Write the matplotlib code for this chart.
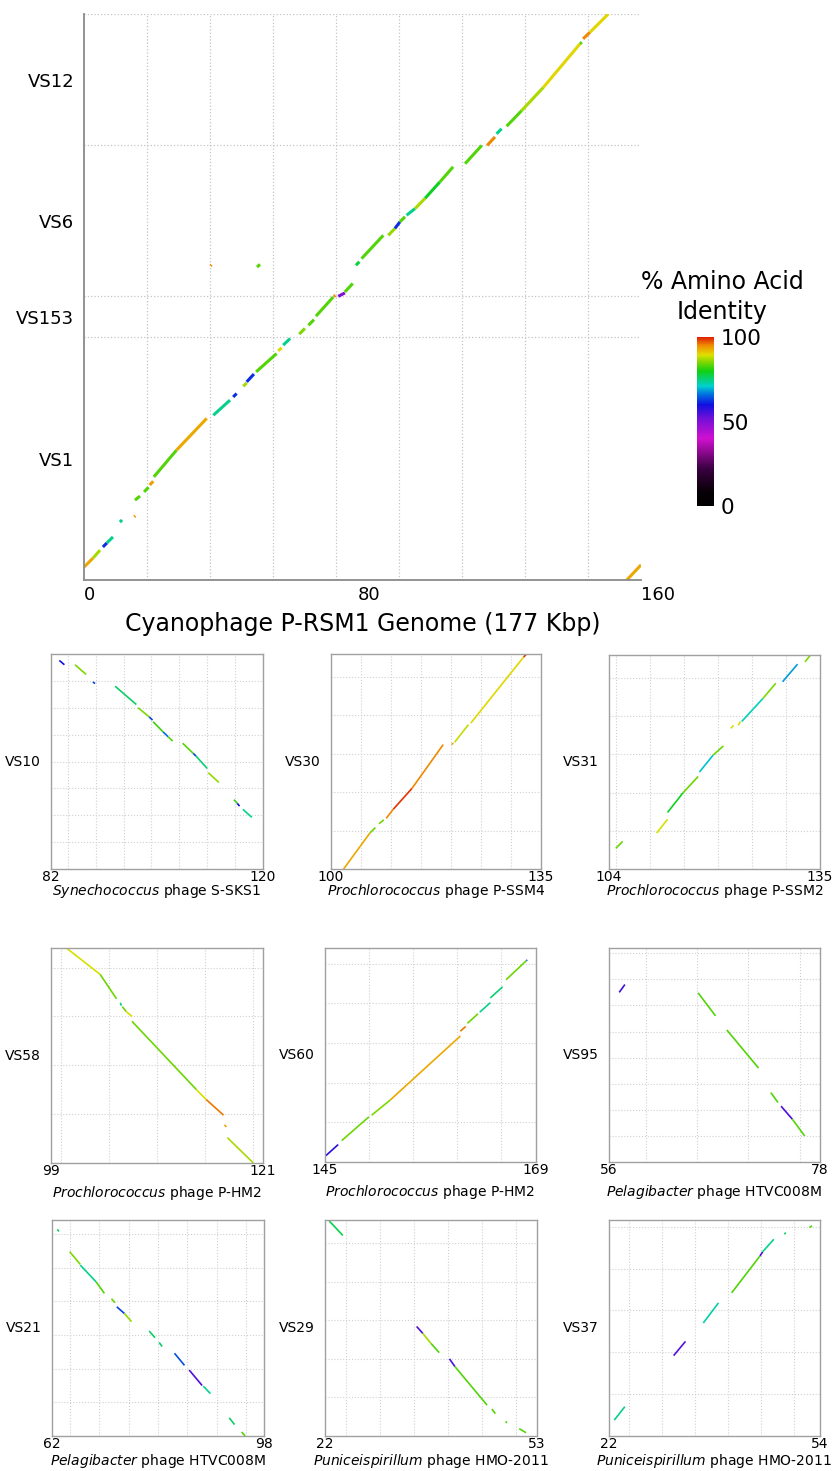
import numpy as np
import matplotlib
matplotlib.use('Agg')
import matplotlib.pyplot as plt
from matplotlib.collections import LineCollection
from matplotlib.colors import LinearSegmentedColormap, Normalize
from matplotlib.cm import ScalarMappable

W, H = 840, 1471

# ---- main dot plot: Cyanophage P-RSM1 vs VS contigs ----
genome_len = 177
contig_names = ['VS1', 'VS153', 'VS6', 'VS12']
contig_lens = [77.2, 13.0, 48.0, 41.8]
main_xtick_pos = [0, 87, 177]
main_xtick_labels = ['0', '80', '160']

# (x0, x1, y0, y1, % identity) in kbp
main_segs = [
    (0.0, 2.9, 4.1, 7.0, 93), (2.9, 5.1, 7.0, 9.5, 87),
    (6.0, 7.3, 10.5, 11.8, 62), (7.3, 9.2, 11.8, 13.7, 74),
    (11.4, 12.1, 18.4, 19.1, 74), (16.0, 16.3, 20.1, 20.4, 95),
    (16.2, 17.8, 25.4, 26.7, 83), (19.1, 20.5, 28.0, 29.5, 83),
    (20.9, 22.0, 30.2, 31.4, 94), (22.2, 29.4, 32.8, 41.3, 83),
    (29.4, 39.0, 41.3, 51.4, 93), (41.1, 46.4, 52.4, 57.2, 74),
    (47.4, 48.5, 58.2, 59.3, 62), (50.6, 51.7, 61.6, 62.7, 87),
    (51.7, 54.0, 63.0, 65.5, 62), (54.7, 61.2, 66.2, 72.0, 83),
    (61.7, 62.8, 72.9, 73.8, 90), (63.3, 65.5, 74.7, 76.8, 74),
    (68.4, 70.2, 78.2, 80.0, 85), (71.3, 73.1, 81.0, 82.8, 83),
    (73.7, 79.2, 83.9, 90.0, 83), (79.4, 79.9, 90.2, 90.5, 95),
    (80.8, 82.9, 90.2, 91.3, 50), (82.9, 85.4, 91.6, 94.3, 83),
    (86.4, 87.5, 100.1, 101.2, 78), (88.2, 95.1, 102.2, 109.6, 83),
    (96.7, 98.8, 109.6, 111.8, 86), (98.8, 100.4, 111.8, 113.9, 62),
    (100.4, 102.0, 113.9, 115.5, 83), (102.5, 105.2, 116.0, 118.1, 74),
    (105.2, 108.4, 118.1, 121.4, 87), (108.4, 113.1, 121.4, 126.6, 79),
    (113.1, 117.3, 126.6, 131.4, 83), (121.1, 126.4, 132.4, 138.2, 83),
    (128.1, 130.6, 138.2, 140.9, 95), (131.1, 132.7, 141.9, 143.5, 74),
    (134.3, 139.1, 144.3, 149.3, 83), (139.1, 146.0, 149.3, 156.7, 87),
    (146.0, 157.6, 156.7, 170.5, 90), (157.6, 158.2, 170.5, 171.0, 83),
    (158.6, 160.8, 172.1, 174.2, 95), (160.8, 166.6, 174.2, 180.0, 90),
    (40.2, 40.5, 99.9, 100.2, 95), (55.0, 55.9, 99.5, 100.4, 83),
    (172.5, 177.0, 0.0, 4.8, 93),
]

# ---- small panels ----
panel_names = ['VS10', 'VS30', 'VS31', 'VS58', 'VS60', 'VS95', 'VS21', 'VS29', 'VS37']
panel_genus = ['Synechococcus', 'Prochlorococcus', 'Prochlorococcus',
               'Prochlorococcus', 'Prochlorococcus', 'Pelagibacter',
               'Pelagibacter', 'Puniceispirillum', 'Puniceispirillum']
panel_phage = ['phage S-SKS1', 'phage P-SSM4', 'phage P-SSM2', 'phage P-HM2',
               'phage P-HM2', 'phage HTVC008M', 'phage HTVC008M',
               'phage HMO-2011', 'phage HMO-2011']
panel_xlims = [(82, 120), (100, 135), (104, 135), (99, 121), (145, 169),
               (56.4, 77.0), (62, 98), (22, 53), (22, 54)]
panel_xticklabels = [('82', '120'), ('100', '135'), ('104', '135'), ('99', '121'),
                     ('145', '169'), ('56', '78'), ('62', '98'), ('22', '53'),
                     ('22', '54')]
panel_ylens = [40, 28, 28, 22, 27, 41, 32.1, 28, 25.8]

vs10_segs = [
    (83.5, 84.4, 38.8, 38.0, 60), (86.3, 88.3, 38.0, 36.2, 85),
    (89.5, 89.9, 34.8, 34.5, 63), (93.5, 97.3, 34.0, 30.6, 76),
    (97.6, 99.6, 30.0, 28.3, 85), (99.6, 100.2, 28.3, 27.7, 63),
    (100.3, 102.1, 27.4, 25.5, 82), (102.1, 103.0, 25.5, 24.6, 66),
    (103.0, 103.8, 24.6, 23.8, 83), (105.6, 107.5, 23.4, 21.5, 83),
    (107.5, 108.0, 21.5, 21.0, 63), (108.0, 110.0, 21.0, 18.7, 75),
    (110.2, 112.1, 17.9, 16.1, 86), (114.8, 115.4, 12.9, 12.2, 82),
    (115.4, 115.8, 12.2, 11.7, 60), (116.4, 118.0, 11.1, 9.6, 74),
]
vs30_segs = [
    (102.1, 106.5, 0.0, 4.7, 93), (106.5, 107.4, 4.7, 5.4, 84),
    (108.0, 108.8, 5.9, 6.4, 84), (109.2, 110.4, 6.6, 7.8, 95),
    (110.4, 113.5, 7.8, 10.5, 99), (113.5, 118.7, 10.5, 16.2, 95),
    (120.1, 120.4, 16.2, 16.4, 93), (120.6, 122.9, 16.5, 18.8, 88),
    (123.3, 132.1, 19.0, 27.6, 90), (132.1, 132.6, 27.6, 28.0, 99),
]
vs31_segs = [
    (105.0, 106.0, 2.7, 3.6, 84), (111.0, 112.6, 4.7, 6.5, 89),
    (112.6, 114.9, 7.4, 10.0, 79), (114.9, 117.1, 10.0, 12.1, 84),
    (117.3, 119.3, 12.7, 14.9, 70), (119.3, 120.8, 14.9, 16.1, 84),
    (121.9, 122.3, 18.4, 18.8, 89), (123.0, 123.3, 18.8, 19.3, 89),
    (123.5, 126.6, 19.3, 22.3, 72), (126.6, 128.5, 22.3, 24.3, 85),
    (129.5, 131.7, 24.5, 26.8, 68), (132.8, 133.6, 27.1, 28.0, 85),
]
vs58_segs = [
    (100.6, 104.1, 22.0, 19.3, 89), (104.1, 105.8, 19.3, 16.8, 84),
    (106.2, 106.3, 16.4, 16.1, 74), (106.4, 106.8, 16.0, 15.5, 84),
    (106.8, 107.4, 15.5, 15.0, 89), (107.4, 114.1, 14.5, 7.5, 84),
    (114.1, 115.1, 7.5, 6.5, 89), (115.1, 116.9, 6.5, 4.9, 96),
    (117.0, 117.2, 3.9, 3.7, 94), (117.3, 120.0, 2.6, 0.0, 87),
]
vs60_segs = [
    (145.1, 146.5, 0.8, 2.2, 58), (146.9, 150.0, 2.7, 5.7, 84),
    (150.3, 152.4, 5.9, 7.8, 85), (152.4, 160.4, 7.8, 15.9, 93),
    (160.4, 161.0, 16.5, 17.1, 96), (161.2, 162.4, 17.5, 18.7, 84),
    (162.6, 163.8, 18.9, 20.1, 74), (163.8, 165.2, 20.7, 22.1, 75),
    (165.6, 167.9, 23.0, 25.4, 84), (167.9, 168.0, 25.4, 25.5, 65),
]
vs95_segs = [
    (57.4, 57.95, 32.5, 34.0, 56), (65.1, 66.8, 32.4, 28.0, 83),
    (67.9, 71.0, 25.3, 18.0, 83), (72.2, 72.9, 13.3, 11.4, 83),
    (73.2, 74.3, 10.7, 8.2, 55), (74.3, 75.5, 8.2, 5.0, 83),
]
vs21_segs = [
    (62.9, 63.2, 30.7, 30.4, 76), (65.0, 66.8, 27.4, 25.5, 85),
    (66.8, 69.5, 25.4, 22.9, 74), (69.5, 70.9, 22.9, 21.2, 83),
    (72.1, 72.7, 20.4, 19.8, 84), (73.0, 74.3, 19.2, 18.2, 63),
    (74.3, 75.5, 18.2, 17.0, 86), (78.5, 79.5, 15.6, 14.6, 76),
    (80.2, 80.7, 13.9, 13.3, 76), (82.8, 84.5, 12.3, 10.5, 64),
    (85.3, 87.5, 9.8, 7.5, 55), (87.7, 88.9, 7.4, 6.3, 74),
    (92.1, 93.0, 2.7, 1.7, 76), (94.2, 94.8, 0.6, 0.0, 83),
]
vs29_segs = [
    (22.6, 24.6, 27.9, 26.0, 77), (35.4, 36.3, 14.2, 13.3, 55),
    (36.3, 37.5, 13.3, 12.0, 87), (37.5, 38.7, 12.0, 10.8, 83),
    (40.2, 41.0, 10.0, 9.0, 55), (41.0, 45.7, 9.0, 4.0, 83),
    (46.4, 46.9, 3.5, 2.9, 83), (48.4, 48.6, 1.9, 1.7, 83),
    (50.4, 51.4, 0.95, 0.43, 83),
]
vs37_segs = [
    (22.8, 24.4, 1.9, 3.5, 74), (31.8, 33.6, 9.6, 11.3, 54),
    (36.3, 38.6, 13.5, 15.9, 73), (40.6, 44.9, 17.1, 21.5, 83),
    (44.9, 45.3, 21.5, 22.0, 55), (45.3, 47.0, 22.0, 23.5, 74),
    (48.6, 48.8, 24.1, 24.3, 76), (52.4, 52.8, 24.9, 25.1, 83),
]
panel_segs = [vs10_segs, vs30_segs, vs31_segs, vs58_segs, vs60_segs,
              vs95_segs, vs21_segs, vs29_segs, vs37_segs]

# colour scale for % amino acid identity
cmap = LinearSegmentedColormap.from_list('aai', [
    (0.0, '#000000'), (0.08, '#060006'), (0.22, '#3a0040'), (0.40, '#d010d0'),
    (0.52, '#7010d8'), (0.60, '#1010e0'), (0.66, '#0070e0'), (0.71, '#00d0d0'),
    (0.80, '#10d010'), (0.86, '#90d800'), (0.895, '#e0e000'), (0.95, '#f09000'),
    (1.0, '#e02000')])
norm = Normalize(0, 100)


def px_box(l, t, r, b):
    return [l / W, 1 - b / H, (r - l) / W, (b - t) / H]


def add_segs(ax, segs, lw):
    s = np.array(segs, dtype=float)
    lines = [[(a, c), (b, d)] for a, b, c, d in s[:, :4]]
    lc = LineCollection(lines, cmap=cmap, norm=norm, linewidths=lw)
    lc.set_array(s[:, 4])
    ax.add_collection(lc)


fig = plt.figure(figsize=(W / 100, H / 100), dpi=100)

# main panel
ax = fig.add_axes(px_box(84, 14, 641, 580))
add_segs(ax, main_segs, 2.2)
bounds = np.concatenate([[0], np.cumsum(contig_lens)])
ax.set_xlim(0, genome_len)
ax.set_ylim(0, bounds[-1])
ax.set_yticks((bounds[:-1] + bounds[1:]) / 2, contig_names)
ax.set_xticks(main_xtick_pos, main_xtick_labels)
for lab in ax.get_xticklabels():
    lab.set_ha('left')
ax.set_xticks(np.arange(20, genome_len, 20), minor=True)
ax.set_yticks(bounds[1:], minor=True)
ax.tick_params(which='both', length=0)
ax.tick_params(axis='y', labelsize=13, pad=7)
ax.tick_params(axis='x', labelsize=13, pad=4)
ax.grid(which='minor', ls=':', color='#c4c4c4', lw=0.9)
ax.grid(which='major', visible=False)
for sp in ['top', 'right']:
    ax.spines[sp].set_visible(False)
for sp in ['left', 'bottom']:
    ax.spines[sp].set_color('#8a8a8a')
    ax.spines[sp].set_linewidth(1.3)
ax.set_xlabel('Cyanophage P-RSM1 Genome (177 Kbp)', fontsize=17, labelpad=6)

# colorbar
cax = fig.add_axes(px_box(697, 337, 714, 506))
cb = fig.colorbar(ScalarMappable(norm=norm, cmap=cmap), cax=cax, ticks=[0, 50, 100])
cb.outline.set_visible(False)
cax.tick_params(length=0, labelsize=15.5, pad=5)
fig.text(722.5 / W, 1 - 297 / H, '% Amino Acid\nIdentity', ha='center', va='center',
         fontsize=17, linespacing=1.3)

# small panels
panel_boxes = [(51, 654, 263, 869), (331, 654, 541, 869), (609, 655, 820, 869),
               (51, 948, 263, 1163), (325, 948, 536, 1162), (609, 948, 820, 1162),
               (52, 1220, 264, 1436), (325, 1220, 537, 1436), (609, 1220, 820, 1436)]
row_labelpad = [-2, 4, 0.5]
for i in range(9):
    a = fig.add_axes(px_box(*panel_boxes[i]))
    add_segs(a, panel_segs[i], 1.2)
    x0, x1 = panel_xlims[i]
    a.set_xlim(x0, x1)
    a.set_ylim(0, panel_ylens[i])
    a.set_xticks([x0, x1], panel_xticklabels[i])
    a.set_yticks([])
    a.set_xticks(np.arange(np.floor(x0 / 5) * 5 + 5, x1, 5), minor=True)
    a.set_yticks(np.arange(5, panel_ylens[i], 5), minor=True)
    a.tick_params(which='both', length=0)
    a.tick_params(axis='x', labelsize=10, pad=1)
    a.grid(which='minor', ls=':', color='#d0d0d0', lw=0.8)
    for sp in a.spines.values():
        sp.set_color('#a0a0a0')
        sp.set_linewidth(1.0)
    a.set_ylabel(panel_names[i], rotation=0, fontsize=10, ha='right', va='center',
                 labelpad=4)
    a.set_xlabel(r'$\mathit{' + panel_genus[i] + '}$ ' + panel_phage[i],
                 fontsize=10, labelpad=row_labelpad[i // 3])

fig.savefig('out.png', dpi=100)
